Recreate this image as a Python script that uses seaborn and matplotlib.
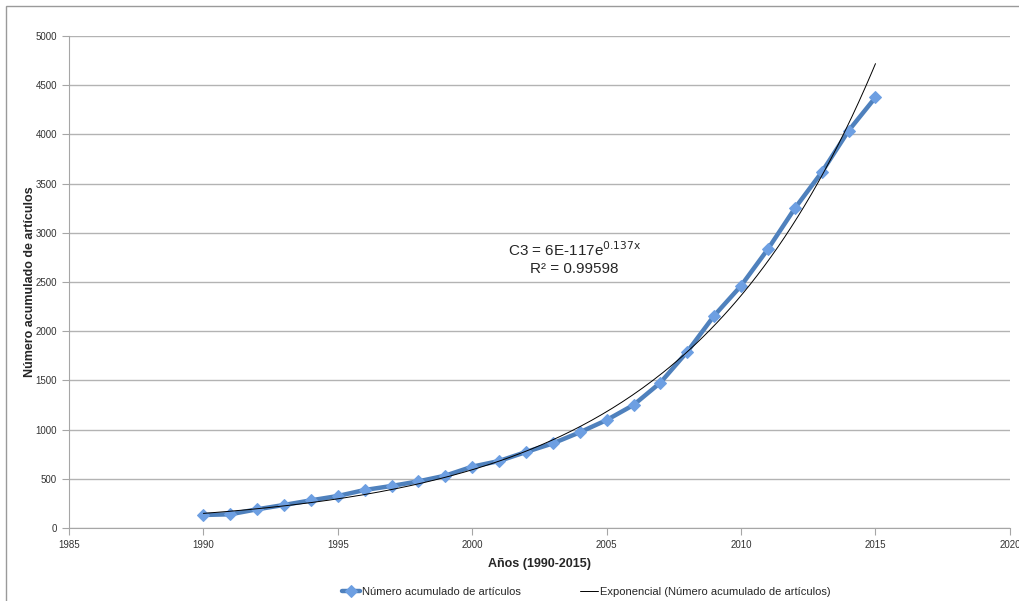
import numpy as np
import pandas as pd
import seaborn as sns
import matplotlib.pyplot as plt
from matplotlib.patches import Rectangle

# cumulative article counts
years = list(range(1990, 2016))
articles = [132, 139, 190, 234, 281, 325, 386, 427, 474, 532, 623, 681, 772,
            860, 972, 1097, 1250, 1477, 1792, 2158, 2462, 2835, 3249, 3615,
            4038, 4377]

x_ticks = [1985, 1990, 1995, 2000, 2005, 2010, 2015, 2020]
y_ticks = [0, 500, 1000, 1500, 2000, 2500, 3000, 3500, 4000, 4500, 5000]

series_label = "Número acumulado de artículos"
trend_label = "Exponencial (Número acumulado de artículos)"

df = pd.DataFrame({"year": years, "n": articles})

# exponential trendline fitted on the data (log-linear least squares)
b, a = np.polyfit(df["year"], np.log(df["n"]), 1)
trend = pd.DataFrame({"year": np.linspace(1990, 2015, 200)})
trend["n"] = np.exp(a + b * trend["year"])

sns.set_style("white")
plt.rcParams['font.family'] = ['Liberation Sans', 'DejaVu Sans']

fig = plt.figure(figsize=(10.2, 6.01), dpi=100)
ax = fig.add_axes([0.0676, 0.1215, 0.9225, 0.8185])

sns.lineplot(data=df, x="year", y="n", ax=ax, color="#4f81bd", lw=3.2,
             marker="D", markersize=6, markerfacecolor="#6d9fe2",
             markeredgecolor="#6d9fe2", label=series_label, zorder=3)
sns.lineplot(data=trend, x="year", y="n", ax=ax, color="black", lw=0.7,
             label=trend_label, zorder=4)

ax.set_xlim(1985, 2020)
ax.set_ylim(0, 5000)
ax.set_xticks(x_ticks)
ax.set_yticks(y_ticks)
ax.yaxis.grid(True, color="#b3b3b3", lw=1)
ax.xaxis.grid(False)
for s in ["top", "right"]:
    ax.spines[s].set_visible(False)
for s in ["left", "bottom"]:
    ax.spines[s].set_color("#a6a6a6")
ax.tick_params(axis="both", which="both", direction="out", length=5,
               color="#a6a6a6", labelsize=7, labelcolor="#333333",
               left=True, bottom=True)

ax.set_xlabel("Años (1990-2015)", fontsize=9, fontweight="bold", labelpad=6)
ax.set_ylabel(series_label, fontsize=9, fontweight="bold", labelpad=0)

ax.text(2003.8, 2830, r"C3 = 6E-117e$^{\mathrm{0.137x}}$", ha="center",
        va="center", fontsize=11)
ax.text(2003.8, 2630, "R² = 0.99598", ha="center", va="center", fontsize=11)

ax.legend(loc="upper center", bbox_to_anchor=(0.55, -0.1), ncol=2,
          frameon=False, fontsize=8, handlelength=1.6, handletextpad=0.2,
          columnspacing=5.3)

fig.patches.append(Rectangle((0.0059, -0.01), 1.0, 1.0,
                             transform=fig.transFigure, fill=False,
                             edgecolor="#9a9a9a", lw=1))

fig.savefig("out.png", dpi=100)
